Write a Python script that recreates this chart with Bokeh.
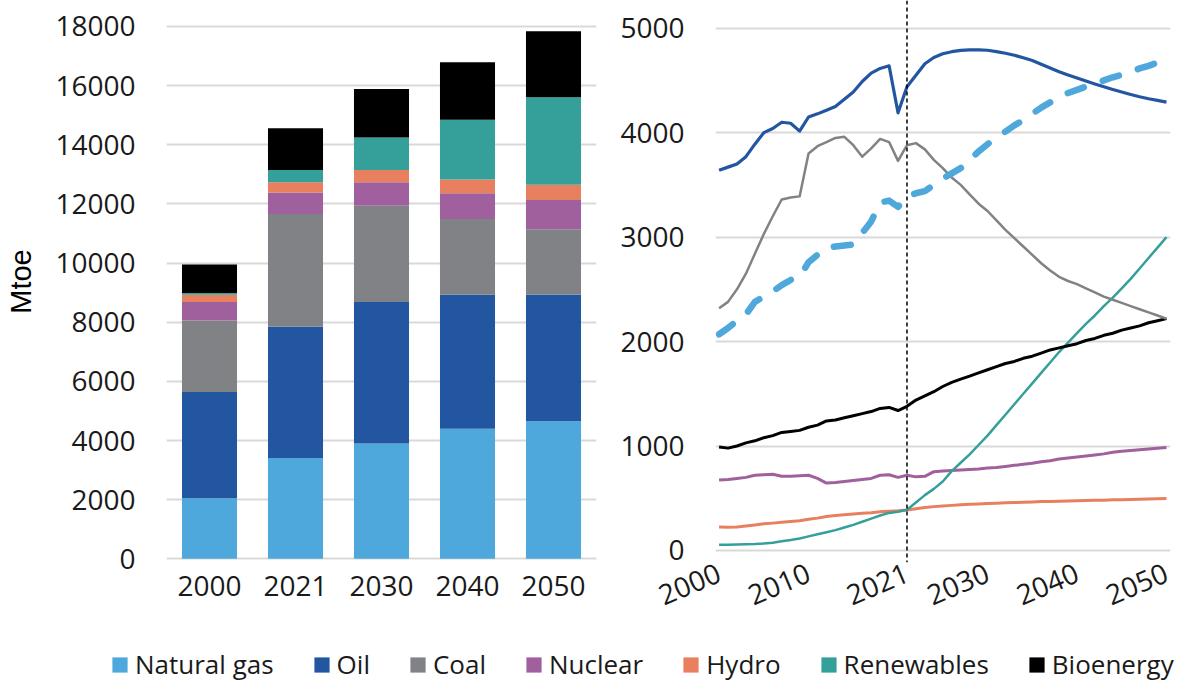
from bokeh.plotting import figure
from bokeh.layouts import column, row
from bokeh.models import (ColumnDataSource, FixedTicker, Legend, LegendItem,
                          Range1d, FactorRange, Span)
from bokeh.embed import file_html
from bokeh.resources import INLINE

# ---------------- data ----------------
names = ["Natural gas", "Oil", "Coal", "Nuclear", "Hydro", "Renewables", "Bioenergy"]
keys = ["gas", "oil", "coal", "nuclear", "hydro", "renew", "bio"]
colors = ["#4FA8DB", "#2356A1", "#808285", "#A0609E", "#E87F5E", "#359F99", "#000000"]

bar_years = ["2000", "2021", "2030", "2040", "2050"]
bar_gas = [2050, 3410, 3900, 4400, 4650]
bar_oil = [3590, 4440, 4780, 4530, 4280]
bar_coal = [2420, 3810, 3260, 2560, 2210]
bar_nuclear = [620, 730, 790, 870, 990]
bar_hydro = [250, 340, 420, 470, 520]
bar_renew = [60, 420, 1100, 2020, 2960]
bar_bio = [960, 1410, 1640, 1940, 2230]

years = list(range(2000, 2051))
line_oil = [3640, 3670, 3700, 3770, 3890, 4000, 4040, 4100, 4090, 4015,
            4150, 4180, 4215, 4250, 4320, 4390, 4490, 4570, 4615, 4640,
            4190, 4440, 4550, 4660, 4720, 4755, 4775, 4788, 4792, 4792,
            4789, 4776, 4760, 4741, 4717, 4690, 4654, 4619, 4584, 4552,
            4523, 4494, 4466, 4440, 4414, 4389, 4366, 4344, 4325, 4309, 4293]
line_gas = [2070, 2130, 2200, 2260, 2380, 2430, 2480, 2540, 2590, 2620,
            2760, 2830, 2900, 2910, 2920, 2930, 3040, 3150, 3330, 3350,
            3290, 3390, 3420, 3440, 3500, 3560, 3610, 3660, 3740, 3820,
            3890, 3950, 4010, 4070, 4120, 4180, 4240, 4290, 4340, 4380,
            4410, 4440, 4470, 4500, 4530, 4555, 4585, 4615, 4640, 4670, 4690]
line_coal = [2320, 2380, 2500, 2650, 2840, 3030, 3200, 3360, 3380, 3390,
             3800, 3870, 3910, 3950, 3960, 3880, 3770, 3850, 3940, 3910,
             3730, 3880, 3900, 3840, 3740, 3660, 3570, 3500, 3410, 3320,
             3250, 3160, 3070, 2990, 2910, 2830, 2750, 2680, 2620, 2580,
             2550, 2510, 2470, 2430, 2400, 2370, 2340, 2310, 2280, 2250, 2220]
line_nuclear = [675, 680, 690, 700, 720, 725, 730, 710, 710, 715,
                720, 690, 645, 650, 660, 670, 680, 690, 720, 725,
                700, 720, 705, 710, 755, 760, 765, 770, 775, 780,
                790, 795, 805, 815, 825, 835, 850, 860, 875, 885,
                895, 905, 915, 925, 940, 950, 958, 965, 972, 978, 985]
line_hydro = [225, 222, 225, 235, 245, 255, 262, 270, 278, 285,
              300, 310, 325, 335, 342, 350, 356, 362, 370, 376,
              380, 388, 400, 412, 420, 426, 432, 437, 442, 446,
              450, 453, 456, 459, 462, 465, 468, 470, 472, 474,
              476, 478, 480, 482, 485, 487, 489, 491, 493, 495, 497]
line_renew = [55, 56, 58, 60, 63, 68, 75, 88, 100, 115,
              135, 155, 175, 195, 220, 245, 275, 305, 335, 360,
              370, 390, 460, 530, 590, 660, 760, 840, 920, 1010,
              1100, 1200, 1300, 1400, 1500, 1600, 1700, 1800, 1900, 1990,
              2080, 2170, 2250, 2340, 2420, 2510, 2600, 2700, 2800, 2900, 3000]
line_bio = [990, 980, 1000, 1030, 1050, 1080, 1100, 1130, 1140, 1150,
            1180, 1200, 1240, 1250, 1270, 1290, 1310, 1330, 1360, 1370,
            1340, 1380, 1440, 1480, 1520, 1570, 1610, 1640, 1670, 1700,
            1730, 1760, 1790, 1810, 1840, 1860, 1890, 1920, 1940, 1960,
            1980, 2010, 2030, 2060, 2080, 2110, 2130, 2150, 2180, 2200, 2220]

left_ticks = [0, 2000, 4000, 6000, 8000, 10000, 12000, 14000, 16000, 18000]
right_ticks = [0, 1000, 2000, 3000, 4000, 5000]
right_xticks = [2000, 2010, 2021, 2030, 2040, 2050]
projection_start = 2021

TICK_FONT = "Open Sans"
TICK_SIZE = "28px"
TEXT_COLOR = "#1a1a1a"
GRID_COLOR = "#D9D9D9"


def style_axes(p):
    for ax in p.axis:
        ax.axis_line_color = None
        ax.major_tick_line_color = None
        ax.minor_tick_line_color = None
        ax.major_tick_out = 0
        ax.minor_tick_out = 0
        ax.major_tick_in = 0
        ax.minor_tick_in = 0
        ax.major_label_text_font = TICK_FONT
        ax.major_label_text_font_size = TICK_SIZE
        ax.major_label_text_color = TEXT_COLOR
    p.outline_line_color = None
    p.xgrid.grid_line_color = None
    p.ygrid.grid_line_color = GRID_COLOR
    p.ygrid.grid_line_width = 2


# ---------------- left: stacked bars ----------------
bar_src = ColumnDataSource(dict(
    years=bar_years, gas=bar_gas, oil=bar_oil, coal=bar_coal, nuclear=bar_nuclear,
    hydro=bar_hydro, renew=bar_renew, bio=bar_bio))

p1 = figure(x_range=FactorRange(factors=bar_years), y_range=Range1d(-125, 18879),
            width=600, height=620, output_backend="svg", toolbar_location=None,
            min_border_left=166, min_border_right=4, min_border_top=0,
            min_border_bottom=58)
p1.vbar_stack(keys, x="years", width=0.64, color=colors, line_color=None, source=bar_src)
style_axes(p1)
p1.yaxis.ticker = FixedTicker(ticks=left_ticks)
p1.yaxis.major_label_standoff = 31
p1.xaxis.major_label_standoff = 13
p1.yaxis.axis_label = "Mtoe"
p1.yaxis.axis_label_text_font = "Liberation Sans"
p1.yaxis.axis_label_text_font_size = "29px"
p1.yaxis.axis_label_text_font_style = "normal"
p1.yaxis.axis_label_text_color = "#000000"
p1.yaxis.axis_label_standoff = 15

# ---------------- right: lines ----------------
line_src = ColumnDataSource(dict(
    year=years, gas=line_gas, oil=line_oil, coal=line_coal, nuclear=line_nuclear,
    hydro=line_hydro, renew=line_renew, bio=line_bio))

p2 = figure(x_range=Range1d(1999.6, 2050.45), y_range=Range1d(-114.9, 5265.2),
            width=578, height=620, output_backend="svg", toolbar_location=None,
            min_border_left=115, min_border_right=8, min_border_top=0,
            min_border_bottom=58)
style_axes(p2)
p2.yaxis.ticker = FixedTicker(ticks=right_ticks)
p2.xaxis.ticker = FixedTicker(ticks=right_xticks)
p2.yaxis.major_label_standoff = 31
p2.xaxis.major_label_standoff = 9
p2.xaxis.major_label_orientation = 0.4

widths = dict(gas=6.5, oil=3.2, coal=2.5, nuclear=3, hydro=3, renew=2.5, bio=3)
draw_order = ["hydro", "nuclear", "renew", "bio", "coal", "oil", "gas"]
for k in draw_order:
    c = colors[keys.index(k)]
    if k == "gas":
        p2.line("year", k, source=line_src, line_color=c, line_width=widths[k],
                line_dash="17 20", line_cap="round", line_join="round")
    else:
        p2.line("year", k, source=line_src, line_color=c, line_width=widths[k],
                line_join="round")

p2.add_layout(Span(location=projection_start, dimension="height", line_color="#000000",
                   line_width=1.5, line_dash="4 3"))

# ---------------- legend strip ----------------
p3 = figure(width=1178, height=66, output_backend="svg", toolbar_location=None,
            x_range=Range1d(0, 1), y_range=Range1d(0, 1),
            x_axis_type=None, y_axis_type=None, min_border=0)
p3.outline_line_color = None
p3.xgrid.grid_line_color = None
p3.ygrid.grid_line_color = None
items = []
for n, c in zip(names, colors):
    r = p3.vbar(x=[float("nan")], top=[float("nan")], width=0.1, color=c, line_color=None)
    items.append(LegendItem(label=n, renderers=[r]))
legend = Legend(items=items, orientation="horizontal", location=(110, 4),
                glyph_width=19, glyph_height=19, label_standoff=6, spacing=38,
                padding=0, margin=0, border_line_color=None, background_fill_alpha=0,
                label_text_font=TICK_FONT, label_text_font_size="26px",
                label_text_color=TEXT_COLOR)
p3.add_layout(legend, "center")

layout = column(row(p1, p2), p3)

open("out.html", "w").write(file_html(layout, INLINE))
